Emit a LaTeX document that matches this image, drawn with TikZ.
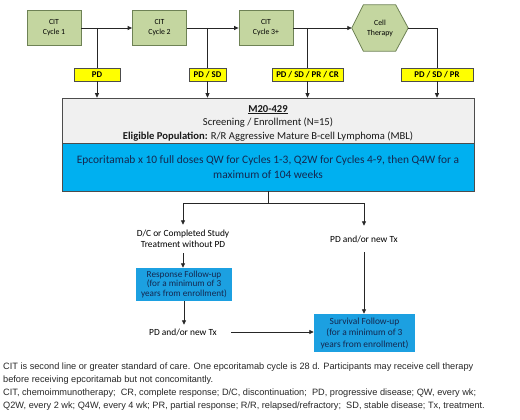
\documentclass[tikz,border=0pt]{standalone}
\usepackage{fontspec}
\setmainfont{Carlito}
\newfontfamily\arialf{Liberation Sans}
\usetikzlibrary{arrows.meta}
\definecolor{citgreen}{RGB}{196,214,160}
\definecolor{citborder}{RGB}{110,130,85}
\definecolor{labyellow}{RGB}{255,255,0}
\definecolor{boxgray}{RGB}{240,240,240}
\definecolor{bigblue}{RGB}{0,176,240}
\definecolor{fublue}{RGB}{28,160,225}
\definecolor{navy}{RGB}{20,40,80}
\begin{document}
\begin{tikzpicture}[x=1pt,y=-1pt,
  cit/.style={draw=citborder, line width=0.8pt, fill=citgreen, minimum width=54pt, minimum height=35pt,
    inner sep=0pt, align=center, font=\fontsize{7.8}{10}\selectfont},
  lab/.style={draw=black!70, line width=0.6pt, fill=labyellow, minimum height=13pt, inner sep=0pt,
    font=\bfseries\fontsize{8.8}{9}\selectfont},
  arr/.style={-{Triangle[length=4.5pt,width=4pt]}, line width=0.8pt, black!85},
  ln/.style={line width=0.8pt, black!85},
  txt/.style={inner sep=0pt, align=center, font=\fontsize{9.4}{10.5}\selectfont},
  fu/.style={fill=fublue, inner sep=0pt, align=center, text=navy}
]
\useasboundingbox (0,0) rectangle (520,420);
% top row
\node[cit] (c1) at (54,28) {CIT\\Cycle 1};
\node[cit] (c2) at (159.5,28) {CIT\\Cycle 2};
\node[cit] (c3) at (266,28) {CIT\\Cycle 3+};
\node[inner sep=0pt, minimum width=56pt, minimum height=46pt, align=center,
  font=\fontsize{7.8}{10}\selectfont] (cell) at (380,28) {};
\draw[draw=citborder, line width=0.8pt, fill=citgreen]
  (cell.west) -- ([xshift=11.5pt]cell.north west) -- ([xshift=-12.5pt]cell.north east)
  -- (cell.east) -- ([xshift=-12.5pt]cell.south east) -- ([xshift=11.5pt]cell.south west) -- cycle;
\node[align=center, font=\fontsize{7.8}{10}\selectfont] at (cell.center) {Cell\\Therapy};

\draw[arr] (c1.east) -- (c2.west);
\draw[arr] (c2.east) -- (c3.west);
\draw[arr] (c3.east) -- (cell.west);

% labels
\node[lab, minimum width=46pt] (l1) at (97,74.5) {PD};
\node[lab, minimum width=37pt] (l2) at (207.5,74.5) {PD / SD};
\node[lab, minimum width=71pt] (l3) at (307.5,74.5) {PD / SD / PR / CR};
\node[lab, minimum width=72pt] (l4) at (437,74.5) {PD / SD / PR};

% big box
\node[draw=black!70, line width=0.6pt, fill=boxgray, minimum width=412pt, minimum height=46pt, inner sep=0pt] (top) at (268,121) {};
\node[draw=black!70, line width=0.6pt, fill=bigblue, minimum width=412pt, minimum height=48pt, inner sep=0pt,
  align=center, text=navy, font=\fontsize{11.4}{15}\selectfont] (blue) at (268,167)
  {Epcoritamab x 10 full doses QW for Cycles 1-3, Q2W for Cycles 4-9, then Q4W for a\\maximum of 104 weeks};
\node[txt, font=\fontsize{10.6}{13.5}\selectfont, text=black!90] (toptext) at (268,123)
  {\textbf{\underline{M20-429}}\\Screening / Enrollment (N=15)\\\textbf{Eligible Population:} R/R Aggressive Mature B-cell Lymphoma (MBL)};

% verticals from top row
\draw[ln] (l1.north |- c1.east) -- (l1.north);
\draw[arr] (l1.south) -- (l1.south |- top.north);
\draw[ln] (l2.north |- c2.east) -- (l2.north);
\draw[arr] (l2.south) -- (l2.south |- top.north);
\draw[ln] (l3.north |- c3.east) -- (l3.north);
\draw[arr] (l3.south) -- (l3.south |- top.north);
\draw[ln] (cell.east) -| (l4.north);
\draw[arr] (l4.south) -- (l4.south |- top.north);

% lower part
\node[txt, minimum height=28pt] (dc) at (183,239) {D/C or Completed Study\\Treatment without PD};
\node[txt, minimum height=26pt] (pdr) at (364,239) {PD and/or new Tx};
\coordinate (split) at (268,203);
\draw[ln] (blue.south) -- (split);
\draw[arr] (split) -| (dc.north);
\draw[arr] (split) -| (pdr.north);

\node[fu, minimum width=96pt, minimum height=33pt, font=\fontsize{9.2}{9.8}\selectfont] (resp) at (184,284.5)
  {Response Follow-up\\(for a minimum of 3\\years from enrollment)};
\draw[arr] (dc.south) -- (dc.south |- resp.north);

\node[txt, minimum height=14pt, inner xsep=14pt] (pdl) at (183,332) {PD and/or new Tx};
\draw[arr] (resp.south) -- (resp.south |- pdl.north);

\node[fu, minimum width=101pt, minimum height=38pt, font=\fontsize{9.4}{11.5}\selectfont] (surv) at (364.5,333)
  {Survival Follow-up\\(for a minimum of 3\\years from enrollment)};
\draw[arr] (pdr.south) -- (pdr.south |- surv.north);
\draw[arr] (pdl.east) -- (pdl.east -| surv.west);

% footnote
\node[anchor=north west, inner sep=0pt, align=left, text=black!85,
  font=\arialf\fontsize{9.2}{13}\selectfont] (foot) at (3,362.5)
  {CIT is second line or greater standard of care. One epcoritamab cycle is 28 d. Participants may receive cell therapy\\
   before receiving epcoritamab but not concomitantly.\\
   CIT, chemoimmunotherapy;\ \ CR, complete response; D/C, discontinuation;\ \ PD, progressive disease; QW, every wk;\\
   Q2W, every 2 wk; Q4W, every 4 wk; PR, partial response; R/R, relapsed/refractory;\ \ SD, stable disease; Tx, treatment.};
\end{tikzpicture}
\end{document}
